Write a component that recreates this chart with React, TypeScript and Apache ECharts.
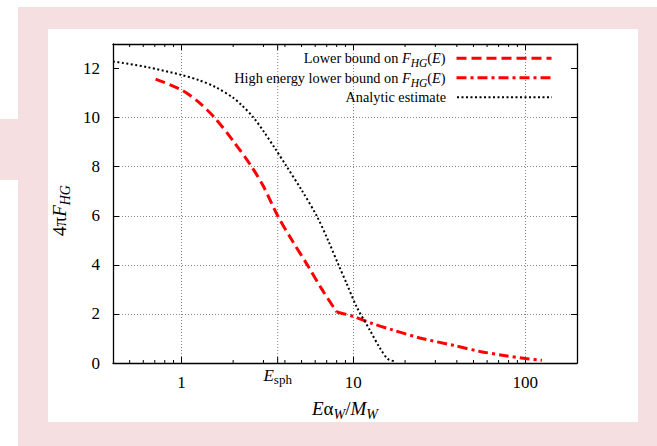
import { useEffect, useRef } from 'react';
import * as echarts from 'echarts';

const FONT = 'Liberation Serif';
const PINK = '#f6dfe0';

// Lower bound on F_HG(E) (dashed red)
const lowerBoundX = [0.708, 1.0, 1.25, 1.56, 2.0, 2.56, 3.0, 3.63, 4.4, 5.4, 6.5, 8.0];
const lowerBoundY = [11.57, 11.13, 10.65, 10.0, 9.05, 8.0, 7.2, 6.0, 5.0, 4.0, 3.05, 2.08];
// High energy lower bound on F_HG(E) (dash-dot red)
const highEnergyX = [8.0, 10, 13, 16.7, 24.4, 38.2, 54.6, 75, 100, 125];
const highEnergyY = [2.08, 1.9, 1.6, 1.36, 1.02, 0.72, 0.47, 0.31, 0.18, 0.11];
// Analytic estimate (dotted black)
const analyticX = [0.4, 0.63, 1.0, 1.26, 1.585, 2.0, 2.24, 2.63, 3.02, 3.5, 4.06, 5.02, 6.14, 7.13, 8.22, 9.14, 10.45, 12.5, 14.3, 15.9, 17.5];
const analyticY = [12.29, 12.06, 11.74, 11.53, 11.24, 10.81, 10.51, 10.0, 9.42, 8.75, 8.05, 7.03, 5.98, 5.0, 3.98, 3.24, 2.29, 1.33, 0.6, 0.16, 0.07];

const xMin = 0.4;
const xMax = 200;
const yMin = 0;
const yMax = 13;
const yInterval = 2;
const xMinorTicks = [0.5, 0.6, 0.7, 0.8, 0.9, 2, 3, 4, 5, 6, 7, 8, 9, 20, 30, 40, 50, 60, 70, 80, 90];
const eSph = 3.63;

const seriesNames = [
  'Lower bound on F_HG(E)',
  'High energy lower bound on F_HG(E)',
  'Analytic estimate',
];
const legendLabels: Record<string, string> = {
  [seriesNames[0]]: '{n|Lower bound on }{i|F}{s|HG}{n|(}{i|E}{n|)}{g|}',
  [seriesNames[1]]: '{n|High energy lower bound on }{i|F}{s|HG}{n|(}{i|E}{n|)}{g|}',
  [seriesNames[2]]: '{n|Analytic estimate}{g|}',
};
const legendRowCenters = [59.3, 78.8, 98.3];

const zip = (xs: number[], ys: number[]) => xs.map((x, i) => [x, ys[i]]);

const legendRich = {
  n: { fontFamily: FONT, fontSize: 14.3, color: '#000' },
  i: { fontFamily: FONT, fontSize: 14.3, fontStyle: 'italic', color: '#000' },
  s: { fontFamily: FONT, fontSize: 11.5, fontStyle: 'italic', color: '#000', padding: [10, 0, 0, 0] },
  g: { width: 6 },
};
const titleRich = {
  n: { fontFamily: FONT, fontSize: 19, color: '#000' },
  i: { fontFamily: FONT, fontSize: 19, fontStyle: 'italic', color: '#000' },
  s: { fontFamily: FONT, fontSize: 14, fontStyle: 'italic', color: '#000', padding: [12, 0, 0, 0] },
  g: { width: 14 },
};

export default function App() {
  const ref = useRef<HTMLDivElement>(null);
  useEffect(() => {
    if (!ref.current) return;
    const chart = echarts.init(ref.current, undefined, { renderer: 'svg' });
    const grey = '#858585';
    const yGridColors = [grey, grey, grey, grey, grey, grey, 'rgba(0,0,0,0)', grey];

    const option: any = {
      animation: false,
      backgroundColor: '#ffffff',
      graphic: {
        z: -1,
        elements: [
          { type: 'rect', silent: true, shape: { x: 18, y: 7, width: 639, height: 439 }, style: { fill: PINK } },
          { type: 'rect', silent: true, shape: { x: 0, y: 119, width: 48, height: 61 }, style: { fill: PINK } },
          { type: 'rect', silent: true, shape: { x: 48, y: 29, width: 590, height: 393 }, style: { fill: '#ffffff' } },
        ],
      },
      grid: { left: 113, right: 80, top: 44, bottom: 83, outerBoundsMode: 'none' },
      legend: seriesNames.map((name, k) => ({
        data: [name],
        orient: 'vertical',
        align: 'right',
        right: 104,
        top: legendRowCenters[k] - 8,
        padding: 0,
        itemWidth: 95,
        itemHeight: 14,
        selectedMode: false,
        formatter: (n: string) => legendLabels[n],
        textStyle: { rich: legendRich },
        itemStyle: { opacity: 0, borderWidth: 0 },
        lineStyle: { width: k === 2 ? 2 : 3, type: 'inherit', opacity: 1 },
      })),
      xAxis: [
        {
          type: 'log',
          logBase: 10,
          min: xMin,
          max: xMax,
          position: 'bottom',
          name: '{i|E}{n|α}{s|W}{n|/}{i|M}{s|W}',
          nameLocation: 'middle',
          nameGap: 32,
          nameTextStyle: { rich: titleRich },
          axisLine: { show: true, onZero: false, lineStyle: { color: '#000', width: 1.3 } },
          axisTick: { show: true, inside: true, length: 6, lineStyle: { color: '#000', width: 1 } },
          axisLabel: { showMinLabel: false, showMaxLabel: false, fontFamily: FONT, fontSize: 17, color: '#000', margin: 11 },
          splitLine: { show: true, lineStyle: { color: grey, type: [1, 2], width: 1 } },
        },
        {
          type: 'log',
          logBase: 10,
          min: xMin,
          max: xMax,
          position: 'top',
          axisLine: { show: true, onZero: false, lineStyle: { color: '#000', width: 1.3 } },
          axisTick: { show: true, inside: true, length: 6, lineStyle: { color: '#000', width: 1 } },
          axisLabel: { show: false },
          splitLine: { show: false },
        },
      ],
      yAxis: [
        {
          type: 'value',
          min: yMin,
          max: yMax,
          interval: yInterval,
          position: 'left',
          name: '{n|4π}{i|F}{s|HG}{g|}',
          nameLocation: 'middle',
          nameRotate: 90,
          nameGap: 40,
          nameTextStyle: { rich: titleRich },
          axisLine: { show: true, onZero: false, lineStyle: { color: '#000', width: 1.3 } },
          axisTick: { show: true, inside: true, length: 6, lineStyle: { color: '#000', width: 1 } },
          axisLabel: { showMaxLabel: false, fontFamily: FONT, fontSize: 17, color: '#000', margin: 13 },
          splitLine: { show: true, lineStyle: { color: yGridColors, type: [1, 2], width: 1 } },
        },
        {
          type: 'value',
          min: yMin,
          max: yMax,
          interval: yInterval,
          position: 'right',
          axisLine: { show: true, onZero: false, lineStyle: { color: '#000', width: 1.3 } },
          axisTick: { show: true, inside: true, length: 6, lineStyle: { color: '#000', width: 1 } },
          axisLabel: { show: false },
          splitLine: { show: false },
        },
      ],
      series: [
        {
          type: 'custom',
          coordinateSystem: 'cartesian2d',
          silent: true,
          z: 1,
          data: xMinorTicks.map((v) => [v, yMin]),
          renderItem: (_p: any, api: any) => {
            const x = api.value(0);
            const b = api.coord([x, yMin]);
            const t = api.coord([x, yMax]);
            return {
              type: 'group',
              children: [
                { type: 'line', shape: { x1: b[0], y1: b[1], x2: b[0], y2: b[1] - 3 }, style: { stroke: '#000', lineWidth: 1 } },
                { type: 'line', shape: { x1: t[0], y1: t[1], x2: t[0], y2: t[1] + 3 }, style: { stroke: '#000', lineWidth: 1 } },
              ],
            };
          },
        },
        {
          type: 'custom',
          coordinateSystem: 'cartesian2d',
          silent: true,
          z: 1,
          data: [[eSph, yMin]],
          renderItem: (_p: any, api: any) => {
            const x = api.value(0);
            const b = api.coord([x, yMin]);
            const t = api.coord([x, yMax]);
            return {
              type: 'group',
              children: [
                { type: 'line', shape: { x1: b[0], y1: b[1], x2: t[0], y2: t[1] }, style: { stroke: grey, lineWidth: 1, lineDash: [1, 2] } },
                { type: 'line', shape: { x1: b[0], y1: b[1], x2: b[0], y2: b[1] - 6 }, style: { stroke: '#000', lineWidth: 1 } },
                { type: 'line', shape: { x1: t[0], y1: t[1], x2: t[0], y2: t[1] + 6 }, style: { stroke: '#000', lineWidth: 1 } },
                {
                  type: 'text',
                  x: b[0],
                  y: b[1] + 12,
                  style: {
                    text: '{e|E}{s|sph}',
                    align: 'center',
                    verticalAlign: 'middle',
                    rich: {
                      e: { fontFamily: FONT, fontSize: 17, fontStyle: 'italic', fill: '#000', color: '#000' },
                      s: { fontFamily: FONT, fontSize: 13, fill: '#000', color: '#000', padding: [8, 0, 0, 0] },
                    },
                  },
                },
              ],
            };
          },
        },
        {
          name: seriesNames[0],
          type: 'line',
          data: zip(lowerBoundX, lowerBoundY),
          symbol: 'none',
          smooth: 0.3,
          z: 3,
          lineStyle: { color: '#ff0000', width: 3, type: [10, 5] },
          itemStyle: { color: '#ff0000' },
        },
        {
          name: seriesNames[1],
          type: 'line',
          data: zip(highEnergyX, highEnergyY),
          symbol: 'none',
          smooth: 0.3,
          z: 3,
          lineStyle: { color: '#ff0000', width: 3, type: [10, 4, 3, 4] },
          itemStyle: { color: '#ff0000' },
        },
        {
          name: seriesNames[2],
          type: 'line',
          data: zip(analyticX, analyticY),
          symbol: 'none',
          smooth: 0.3,
          z: 4,
          lineStyle: { color: '#000000', width: 2, type: [2, 2.5] },
          itemStyle: { color: '#000000' },
        },
      ],
    };
    chart.setOption(option);
    return () => chart.dispose();
  }, []);
  return <div ref={ref} style={{ position: 'absolute', left: 0, top: 0, width: 657, height: 446 }} />;
}
